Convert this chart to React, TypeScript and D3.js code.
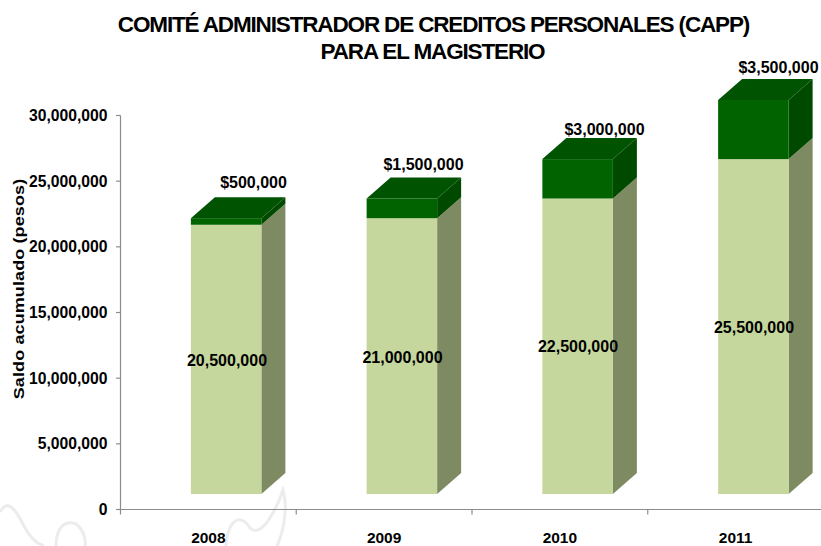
import React from "react";
import * as d3 from "d3";

const years = ["2008", "2009", "2010", "2011"];
const baseValues = [20500000, 21000000, 22500000, 25500000];
const topValues = [500000, 1500000, 3000000, 4500000];
const baseLabels = ["20,500,000", "21,000,000", "22,500,000", "25,500,000"];
const topLabels = ["$500,000", "$1,500,000", "$3,000,000", "$3,500,000"];
const yTicks = [0, 5000000, 10000000, 15000000, 20000000, 25000000, 30000000];
const titleLines = ["COMITÉ ADMINISTRADOR  DE CREDITOS PERSONALES (CAPP)", "PARA EL MAGISTERIO"];
const topLabelPos = [[253.5, 182], [423.5, 164], [604.5, 129], [778.5, 67]];
const baseLabelPos = [[227, 360], [402.5, 357], [578, 346], [754, 327]];

const FONT = "'Liberation Sans', Arial, sans-serif";
const AXIS = "#8c8c8c";

export default function App() {
  const y = d3.scaleLinear().domain([0, 30000000]).range([509.5, 115.5]);
  const x = d3.scaleBand().domain(years).range([120.5, 823.5]);
  const barW = 70.5;
  const dx = 24;
  const dy = -21;
  const lift = 15.5;
  const poly = (p: [number, number][]) => d3.line()(p) + "Z";

  return (
    <svg width={821} height={546} viewBox="0 0 821 546"
      style={{ position: "absolute", left: 0, top: 0, background: "#fff", fontFamily: FONT }}>
      <g fill="none" stroke="#ececec" strokeWidth={3}>
        <path d="M0,512 C8,498 16,510 24,526 C30,538 38,544 44,546" />
        <path d="M56,546 C56,526 66,520 76,524 C84,530 86,540 85,546" />
        <path d="M226,546 C228,520 240,512 250,528 C262,540 278,505 283,490 C289,510 282,535 277,546" />
      </g>
      {years.map((yr, i) => {
        const x0 = (x(yr) as number) + x.bandwidth() / 2 - 17.5;
        const x1 = x0 + barW;
        const yb = y(0) - lift;
        const ym = y(baseValues[i]) - lift;
        const yt = y(baseValues[i] + topValues[i]) - lift;
        return (
          <g key={yr}>
            <path d={poly([[x1, yb], [x1 + dx, yb + dy], [x1 + dx, ym + dy], [x1, ym]])} fill="#7e8a62" />
            <rect x={x0} y={ym} width={barW} height={yb - ym} fill="#c5d79d" />
            <path d={poly([[x1, ym], [x1 + dx, ym + dy], [x1 + dx, yt + dy], [x1, yt]])} fill="#004a00" />
            <rect x={x0} y={yt} width={barW} height={ym - yt} fill="#006300" />
            <path d={poly([[x0, yt], [x0 + dx, yt + dy], [x1 + dx, yt + dy], [x1, yt]])} fill="#005300" />
          </g>
        );
      })}
      <g stroke={AXIS} strokeWidth={1.2} fill="none">
        <line x1={120.5} x2={120.5} y1={y(30000000)} y2={y(0) + 5} />
        <line x1={116} x2={821} y1={y(0)} y2={y(0)} />
        {yTicks.map((t) => <line key={t} x1={116} x2={120.5} y1={y(t)} y2={y(t)} />)}
        {[0, 1, 2, 3].map((i) => {
          const tx = (x(years[i]) as number) + x.bandwidth();
          return <line key={i} x1={tx} x2={tx} y1={y(0)} y2={y(0) + 5} />;
        })}
      </g>
      <g fontWeight={700} fill="#000" fontSize={15.7}>
        {yTicks.map((t) => (
          <text key={t} x={107.5} y={y(t) + 5.5} textAnchor="end">{d3.format(",")(t)}</text>
        ))}
        {years.map((yr) => (
          <text key={yr} x={(x(yr) as number) + x.bandwidth() / 2} y={542.5} fontSize={15.5} textAnchor="middle">{yr}</text>
        ))}
        {baseLabels.map((l, i) => (
          <text key={l} x={baseLabelPos[i][0]} y={baseLabelPos[i][1] + 6} fontSize={16} textAnchor="middle">{l}</text>
        ))}
        {topLabels.map((l, i) => (
          <text key={l} x={topLabelPos[i][0]} y={topLabelPos[i][1] + 6} fontSize={16} textAnchor="middle">{l}</text>
        ))}
        <text transform="translate(24,289) rotate(-90) scale(1.2,1)" textAnchor="middle" fontSize={15} letterSpacing={0.1}>Saldo acumulado (pesos)</text>
      </g>
      <g fontWeight={700} fill="#000" fontSize={22.5} textAnchor="middle" letterSpacing={-1.15} style={{ whiteSpace: "pre" }}>
        <text x={433.5} y={32}>{titleLines[0]}</text>
        <text x={432.5} y={59}>{titleLines[1]}</text>
      </g>
    </svg>
  );
}
